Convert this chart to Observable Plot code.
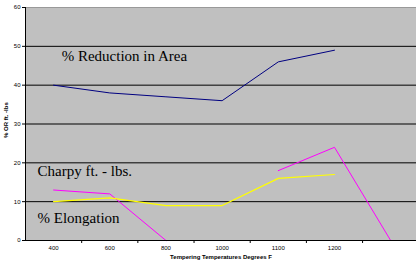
<!DOCTYPE html>
<html>
<head>
<meta charset="utf-8">
<script src="https://cdn.jsdelivr.net/npm/d3@7"></script>
<script src="https://cdn.jsdelivr.net/npm/@observablehq/plot@0.6"></script>
<style>
  html, body { margin: 0; padding: 0; background: #fff; }
</style>
</head>
<body>
<div id="chart"></div>
<script>
const categories = ["400", "600", "800", "1000", "1100", "1200", ""];
const reductionInArea = [40, 38, 37, 36, 46, 49, null];
const charpy = [13, 12, 0, null, 18, 24, 0];
const elongation = [10, 11, 9, 9, 16, 17, null];
const yTicks = [0, 10, 20, 30, 40, 50, 60];
const gridLines = [10, 20, 30, 40, 50];
const annotations = [
  {text: "% Reduction in Area", x: -0.07, y: 47.4},
  {text: "Charpy ft. - lbs.", x: -0.5, y: 17.8},
  {text: "% Elongation", x: -0.5, y: 5.7}
];
const xTitle = "Tempering Temperatures Degrees F";
const yTitle = "% OR ft. -lbs";

const toRows = arr => arr.map((v, i) => ({i, v}));
const labelIdx = categories.map((c, i) => i).filter(i => categories[i] !== "");
const bounds = labelIdx.map(i => i + 0.5);

const chart = Plot.plot({
  width: 416,
  height: 266,
  marginLeft: 25,
  marginRight: 0,
  marginTop: 7,
  marginBottom: 26,
  style: {fontFamily: "Liberation Sans, Arial, sans-serif", fontSize: "6px", background: "#fff", color: "#000"},
  x: {type: "linear", domain: [-0.5, 6.46]},
  y: {domain: [0, 60]},
  marks: [
    Plot.frame({fill: "#c0c0c0", stroke: null}),
    Plot.ruleY(gridLines, {stroke: "#000", strokeWidth: 1}),
    Plot.ruleY([60], {stroke: "#999", strokeWidth: 1}),
    Plot.line(toRows(reductionInArea), {x: "i", y: "v", stroke: "#000080", strokeWidth: 1, defined: d => d.v != null}),
    Plot.line(toRows(charpy), {x: "i", y: "v", stroke: "#ff00ff", strokeWidth: 1, defined: d => d.v != null}),
    Plot.line(toRows(elongation), {x: "i", y: "v", stroke: "#ffff00", strokeWidth: 1.2, defined: d => d.v != null}),
    Plot.axisY({ticks: yTicks, tickSize: 3, tickPadding: 2, label: null, stroke: "#000"}),
    Plot.axisX({ticks: labelIdx, tickSize: 0, tickPadding: 5, tickFormat: i => categories[i], label: null}),
    Plot.axisX({ticks: bounds, tickSize: 3, tickFormat: () => "", label: null}),
    Plot.ruleX([-0.5], {stroke: "#000"}),
    Plot.ruleY([0], {stroke: "#000"}),
    Plot.text(annotations, {x: "x", y: "y", text: "text", textAnchor: "start", dx: 12, fontFamily: "Liberation Serif, Times New Roman, serif", fontSize: 15, fill: "#000"}),
    Plot.text([xTitle], {frameAnchor: "bottom", dy: 18, text: d => d, fontWeight: "bold", fontSize: 6}),
    Plot.text([yTitle], {x: () => -0.5, y: () => 31, dx: -19, rotate: -90, text: d => d, fontWeight: "bold", fontSize: 6})
  ]
});
document.getElementById("chart").appendChild(chart);
</script>
</body>
</html>
